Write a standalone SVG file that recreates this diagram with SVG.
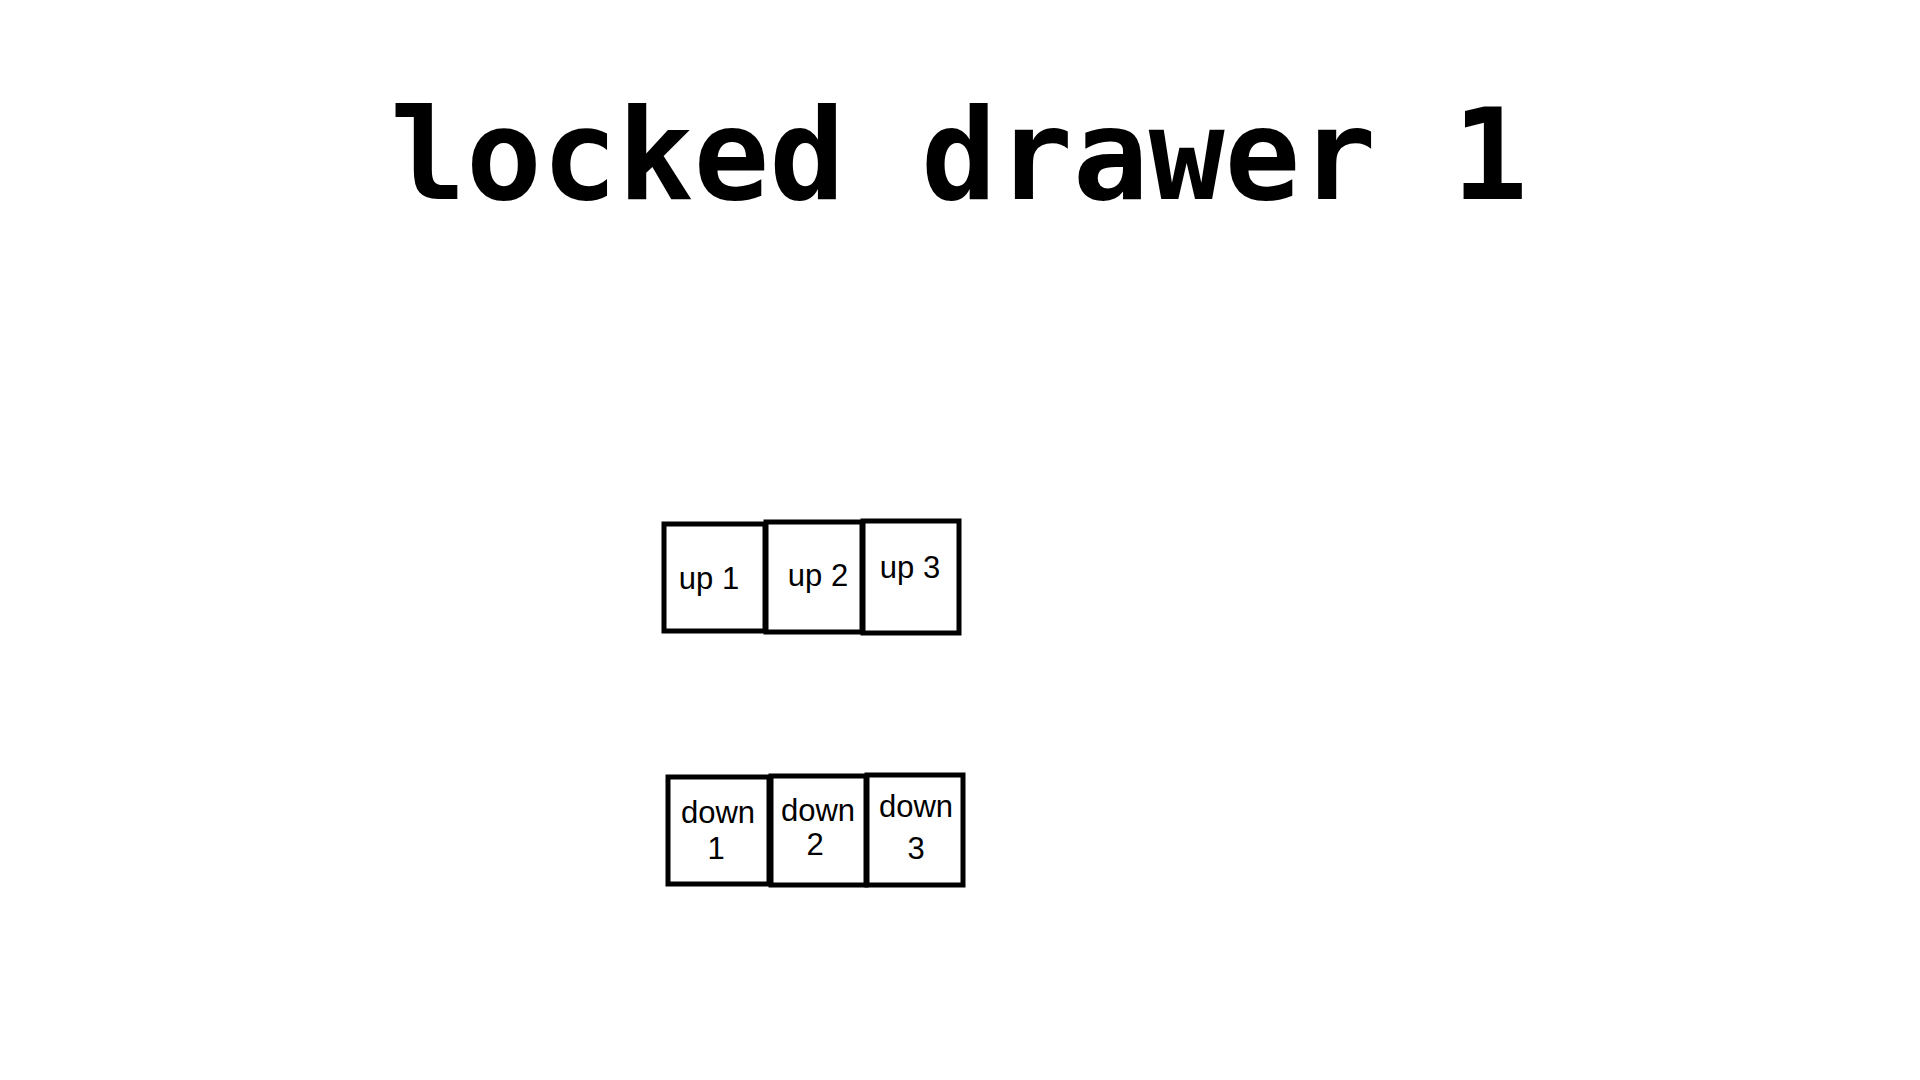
<svg xmlns="http://www.w3.org/2000/svg" width="1920" height="1080" viewBox="0 0 1920 1080">
<style>
.box{fill:#ffffff;stroke:#000000;stroke-width:5}
.lbl{font-family:"Liberation Sans",Arial,sans-serif;font-size:31px;fill:#000000;text-anchor:middle}
.title{font-family:"DejaVu Sans Mono",monospace;font-weight:bold;font-size:126px;fill:#000000;text-anchor:middle}
</style>
<rect width="1920" height="1080" fill="#ffffff"/>
<text class="title" x="959" y="199">locked drawer 1</text>
<g id="connectors"></g>
<g id="up1"><rect class="box" x="664" y="524" width="101" height="107"/><text class="lbl" x="709" y="589">up 1</text></g>
<g id="up2"><rect class="box" x="766" y="522" width="96" height="110"/><text class="lbl" x="818" y="586">up 2</text></g>
<g id="up3"><rect class="box" x="863" y="521" width="96" height="112"/><text class="lbl" x="910" y="578">up 3</text></g>
<g id="down1"><rect class="box" x="668" y="777" width="101" height="107"/><text class="lbl" x="718" y="823">down</text><text class="lbl" x="716" y="859">1</text></g>
<g id="down2"><rect class="box" x="771" y="776" width="95" height="109"/><text class="lbl" x="818" y="821">down</text><text class="lbl" x="815" y="855">2</text></g>
<g id="down3"><rect class="box" x="867" y="775" width="96" height="110"/><text class="lbl" x="916" y="817">down</text><text class="lbl" x="916" y="859">3</text></g>
</svg>
